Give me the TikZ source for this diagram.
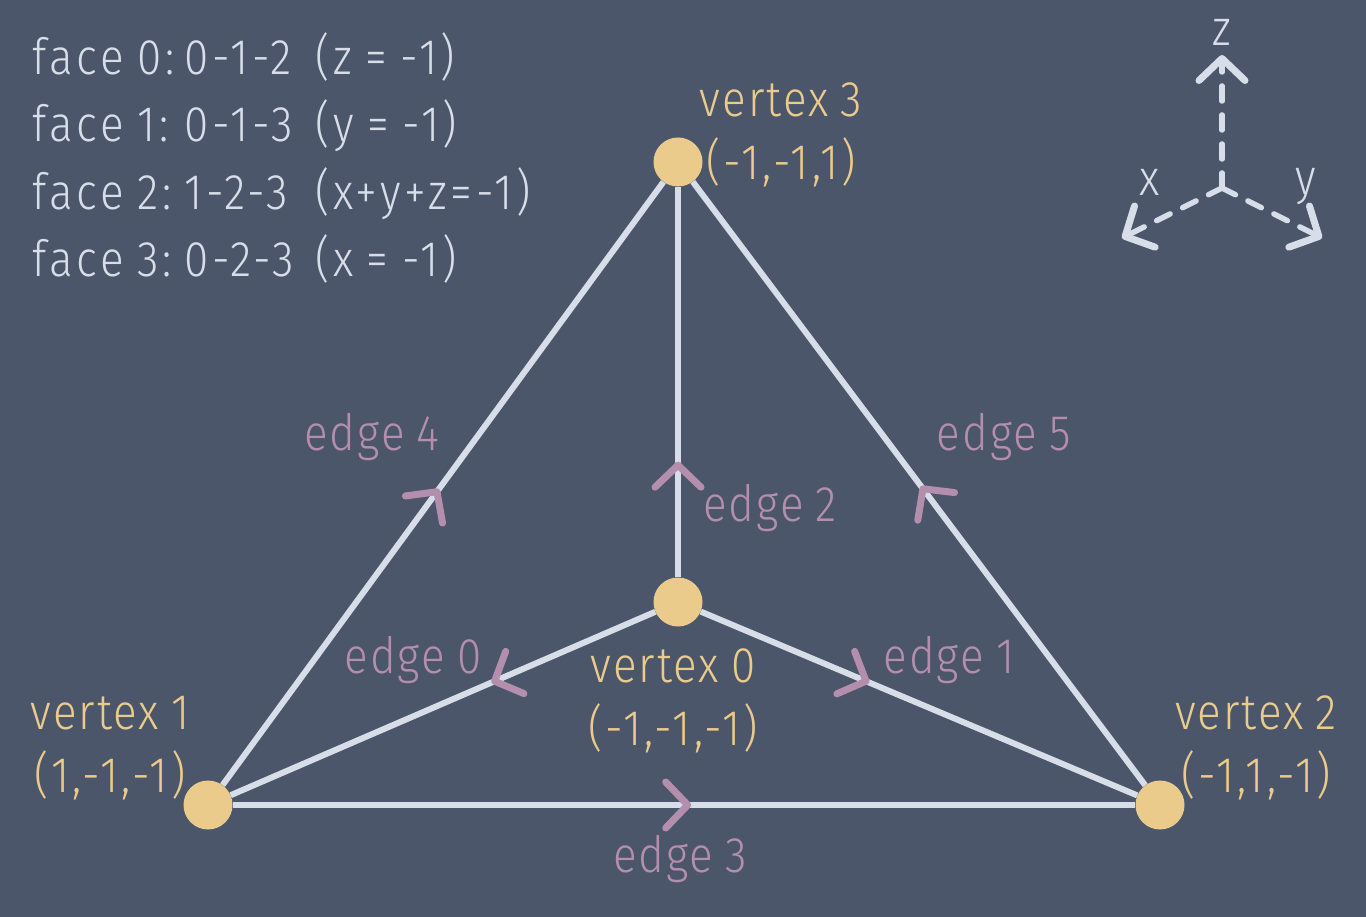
\documentclass[tikz,border=0pt]{standalone}
\usepackage{fontspec}
\setmainfont{Fira Sans Light}[FakeStretch=0.88,LetterSpace=4,WordSpace=0.85,Numbers={Lining,Proportional}]
\usepackage{xcolor}
\usetikzlibrary{arrows.meta,decorations.markings,positioning}
\definecolor{NORDBG}{HTML}{4C566A}
\definecolor{NORDLINE}{HTML}{D8DEE9}
\definecolor{NORDYELLOW}{HTML}{EBCB8B}
\definecolor{NORDMAUVE}{HTML}{B48EAD}
\newcommand{\FACEROW}[3]{\makebox[152pt][l]{#1}\makebox[131pt][l]{#2}#3}
\newcommand{\COORD}[1]{{\addfontfeature{LetterSpace=6.5}#1}}
\begin{document}
\begin{tikzpicture}[x=1pt, y=-1pt]
% Define
\tikzstyle{VERTEX} = [circle, fill=NORDYELLOW, minimum size=49pt, inner sep=0pt]
\tikzstyle{VERTEXTEXT} = [text=NORDYELLOW, align=center, inner sep=0pt, font=\fontsize{50}{63}\selectfont]
\tikzstyle{EDGETEXT} = [text=NORDMAUVE, anchor=base, inner sep=0pt, font=\fontsize{50}{65}\selectfont]
\tikzstyle{AXISTEXT} = [text=NORDLINE, inner sep=0pt, font=\fontsize{50}{65}\selectfont]
\tikzstyle{FACETEXT} = [text=NORDLINE, align=left, anchor=west, inner sep=0pt, font=\fontsize{50}{67.5}\selectfont\addfontfeature{LetterSpace=7.5}]
\tikzstyle{LINE} = [draw=NORDLINE, line width=6pt]
\tikzstyle{AXIS} = [draw=NORDLINE, line width=5.5pt, line cap=round, dash pattern=on 15pt off 14pt, -{Straight Barb[length=22pt, width=46pt, line width=7pt, round]}]
\tikzstyle{MARKED} = [postaction={decorate, decoration={markings, mark=at position #1 with {\arrow[NORDMAUVE]{Straight Barb[length=22pt, width=46pt, line width=7pt, round]}}}}]
\fill [NORDBG] (0,0) rectangle (1366,917);
% Place nodes
\node [VERTEX] (v0) at (678,602) {};
\node [VERTEX] (v1) at (208,805) {};
\node [VERTEX] (v2) at (1160,805) {};
\node [VERTEX] (v3) at (678,162) {};
\node [VERTEXTEXT] (v0_text) at (673,701) {vertex 0 \\ \COORD{(-1,-1,-1)}};
\node [VERTEXTEXT] (v1_text) at (110,748) {vertex 1 \\ \COORD{(1,-1,-1)}};
\node [VERTEXTEXT] (v2_text) at (1256,748) {vertex 2 \\ \COORD{(-1,1,-1)}};
\node [VERTEXTEXT] (v3_text) at (781,135) {vertex 3 \\ \COORD{(-1,-1,1)}};
\node [EDGETEXT] (e0_text) at (413,673) {edge 0};
\node [EDGETEXT] (e1_text) at (949,673) {edge 1};
\node [EDGETEXT] (e2_text) at (770,521) {edge 2};
\node [EDGETEXT] (e3_text) at (680,872) {edge 3};
\node [EDGETEXT] (e4_text) at (372,450) {edge 4};
\node [EDGETEXT] (e5_text) at (1004,450) {edge 5};
\node [FACETEXT] (faces) at (32,158) {\FACEROW{face 0:}{0-1-2}{(z = -1)} \\ \FACEROW{face 1:}{0-1-3}{(y = -1)} \\ \FACEROW{face 2:}{1-2-3}{(x+y+z=-1)} \\ \FACEROW{face 3:}{0-2-3}{(x = -1)}};
\coordinate (origin) at (1222,188);
\coordinate (x_end) at (1122,238);
\coordinate (y_end) at (1322,238);
\coordinate (z_end) at (1222,55);
\node [AXISTEXT] (x_text) at (1150,182) {x};
\node [AXISTEXT] (y_text) at (1306,187) {y};
\node [AXISTEXT] (z_text) at (1222,32) {z};
% LINES and ARROWS
\path [LINE, MARKED=.386] (v0) -- (v1);
\path [LINE, MARKED=.386] (v0) -- (v2);
\path [LINE, MARKED=.296] (v0) -- (v3);
\path [LINE, MARKED=.508] (v1) -- (v2);
\path [LINE, MARKED=.491] (v1) -- (v3);
\path [LINE, MARKED=.496] (v2) -- (v3);
\path [AXIS] (origin) -- (x_end);
\path [AXIS] (origin) -- (y_end);
\path [AXIS] (origin) -- (z_end);
\end{tikzpicture}
\end{document}
